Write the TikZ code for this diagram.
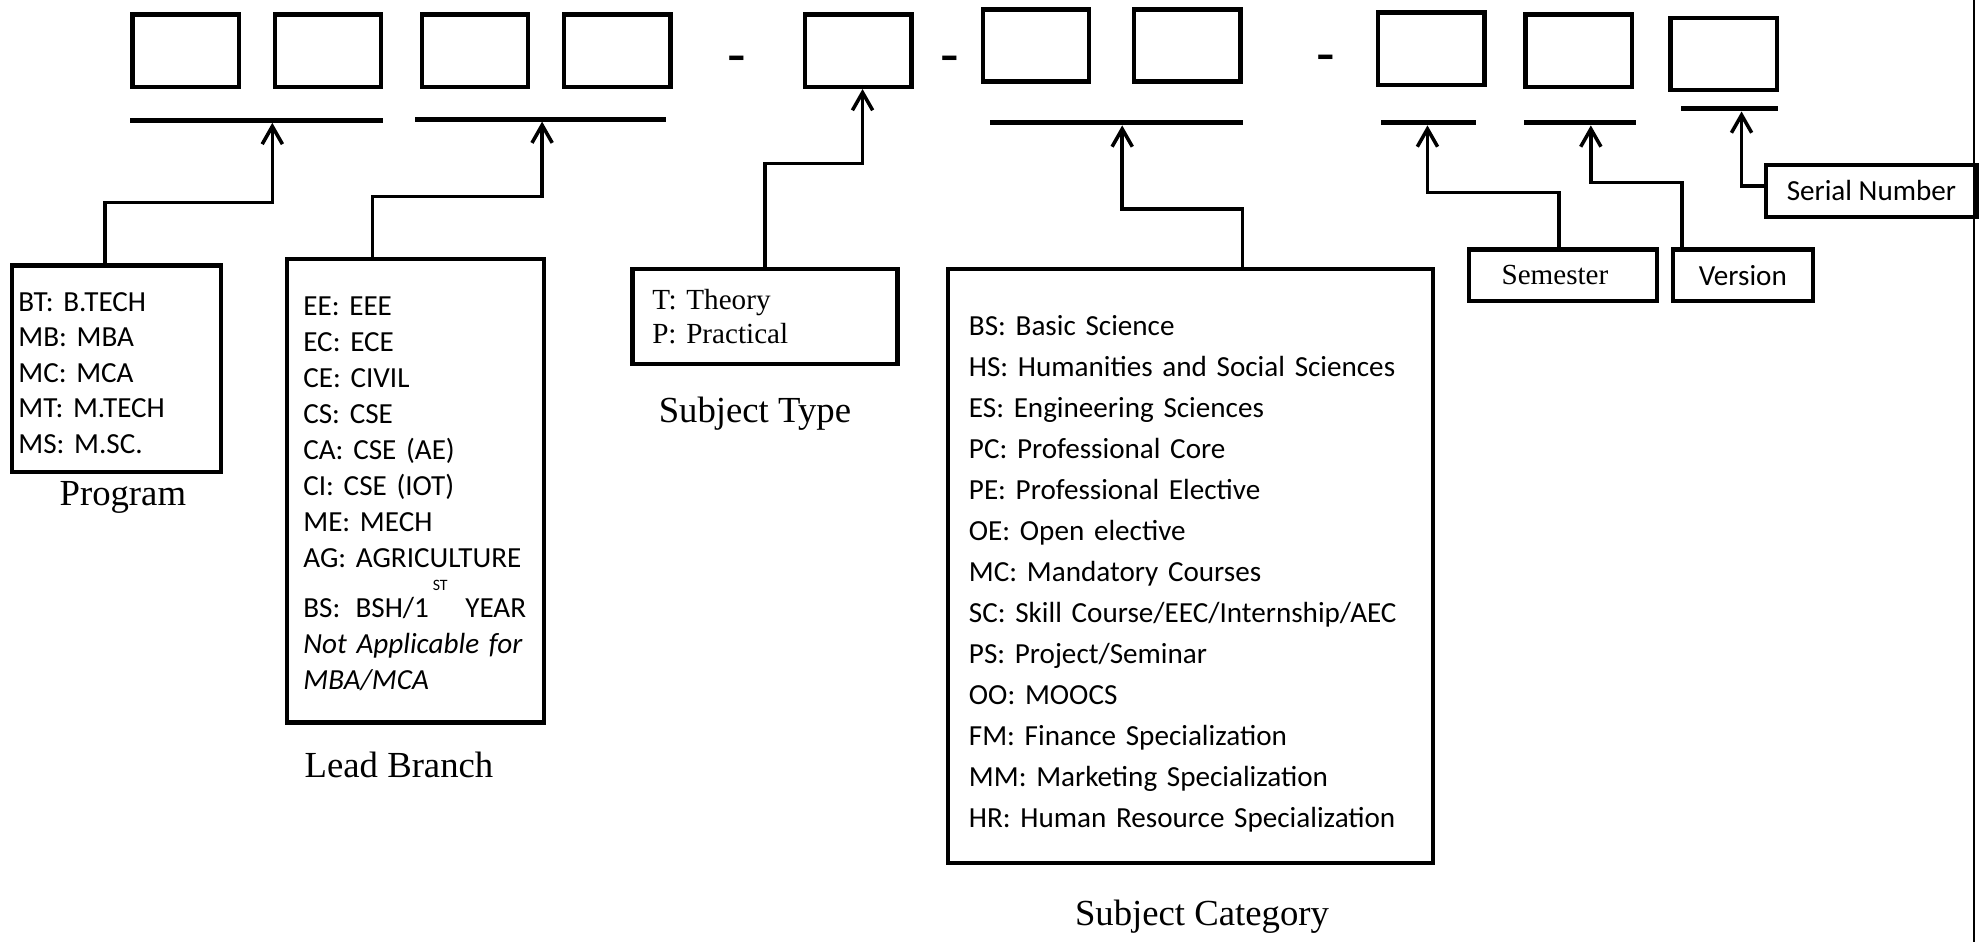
\documentclass[tikz,border=0pt]{standalone}
\usepackage{fontspec}
\setmainfont{Carlito}
\newfontfamily\tnr{Liberation Serif}
\usetikzlibrary{arrows.meta,positioning}
\frenchspacing

\begin{document}
\begin{tikzpicture}[x=1pt,y=-1pt]
\tikzstyle{cell}=[draw, line width=3.5pt, minimum width=84pt, minimum height=57pt, inner sep=0pt]
\tikzstyle{hyphen}=[font=\fontsize{48}{52}\selectfont, inner sep=0pt]
\tikzstyle{bar}=[fill, inner sep=0pt, outer sep=0pt, minimum height=4pt]
\tikzstyle{legend}=[draw, line width=3.6pt, align=left, inner ysep=0pt,
	font=\fontsize{23}{28}\selectfont]
\tikzstyle{tag}=[draw, line width=3.2pt, inner sep=0pt, minimum height=41pt,
	font=\fontsize{23}{28}\selectfont]
\tikzstyle{caption}=[font=\tnr\fontsize{29}{34}\selectfont]
\tikzstyle{link}=[line width=2.8pt, -{Straight Barb[length=14pt,width=16pt]}]
\useasboundingbox (0,0) rectangle (1568,744);

% code boxes
\node[cell] (b1) at (146.5,40) {};
\node[cell, right=25pt of b1] (b2) {};
\node[cell] (b3) at (375,40) {};
\node[cell, right=25pt of b3] (b4) {};
\node[cell] (b5) at (677.5,40) {};
\node[cell] (b6) at (818,36) {};
\node[cell, right=32pt of b6] (b7) {};
\node[cell] (b8) at (1130,38.5) {};
\node[cell, right=29pt of b8, yshift=-1.5pt] (b9) {};
\node[cell, right=27pt of b9, yshift=-2.5pt] (b10) {};
\node[hyphen] (d1) at (582,52) {-};
\node[hyphen] (d2) at (750,52) {-};
\node[hyphen] (d3) at (1047,51) {-};

% underlines
\node[bar, minimum width=199pt] (u1) at (202.5,95) {};
\node[bar, minimum width=198pt] (u2) at (427,94) {};
\node[bar, minimum width=199pt] (u3) at (881.5,97) {};
\node[bar, minimum width=75pt] (u4) at (1127.5,97) {};
\node[bar, minimum width=89pt] (u5) at (1247.5,97) {};
\node[bar, minimum width=77pt] (u6) at (1365.5,86) {};

% legends
\node[legend, minimum width=165pt, minimum height=163pt, text width=155pt, inner xsep=5pt] (prog) at (92,291)
	{\rule{0pt}{21.8pt}BT: B.TECH\\MB: MBA\\MC: MCA\\MT: M.TECH\\MS: M.SC.};
\node[legend, minimum width=203pt, minimum height=366pt, text width=177pt, inner xsep=13pt,
	font=\fontsize{23}{28.4}\selectfont] (lead) at (328,387.5)
	{\rule{0pt}{19.8pt}EE: EEE\\EC: ECE\\CE: CIVIL\\CS: CSE\\CA: CSE (AE)\\CI: CSE (IOT)\\ME: MECH\\AG: AGRICULTURE\\[11.6pt]
	BS:\hspace{12pt}BSH/1\hspace{3pt}\raisebox{22pt}[0pt][0pt]{\fontsize{12.5}{14}\selectfont ST}\hspace{14pt}YEAR\\
	\makebox[177pt][s]{\itshape Not Applicable for}\\\itshape MBA/MCA};
\node[legend, font=\tnr\fontsize{23}{27}\selectfont, minimum width=209pt, minimum height=75pt,
	text width=178pt, inner xsep=15.5pt] (type) at (604,250) {T: Theory\\P: Practical};
\node[legend, font=\fontsize{23}{32.4}\selectfont, minimum width=383pt, minimum height=469pt,
	text width=350pt, inner xsep=16.5pt] (cat) at (940,447)
	{\rule{0pt}{28.3pt}BS: Basic Science\\HS: Humanities and Social Sciences\\ES: Engineering Sciences\\
	PC: Professional Core\\PE: Professional Elective\\OE: Open elective\\MC: Mandatory Courses\\
	SC: Skill Course/EEC/Internship/AEC\\PS: Project/Seminar\\OO: MOOCS\\
	FM: Finance Specialization\\MM: Marketing Specialization\\HR: Human Resource Specialization};
\node[tag, minimum width=149pt, text width=97pt, inner xsep=26pt, align=left,
	font=\tnr\fontsize{23}{28}\selectfont] (sem) at (1234,217.5) {Semester};
\node[tag, minimum width=111pt] (ver) at (1376,217.5) {Version};
\node[tag, minimum width=167pt] (ser) at (1477.5,150.5) {Serial Number};

% captions
\node[caption] (capprog) at (97,393) {Program};
\node[caption] (caplead) at (315,604) {Lead Branch};
\node[caption] (captype) at (596,327) {Subject Type};
\node[caption] (capcat) at (949,724) {Subject Category};

% connectors
\coordinate (e1) at (215,160);
\coordinate (e2) at (428,155);
\coordinate (e3) at (681,129);
\coordinate (e4) at (886,165);
\coordinate (e5) at (1127,152);
\coordinate (e6) at (1256,144);
\coordinate (e7) at (1375,147);
\draw[link] ([xshift=-9pt]prog.north) |- (e1) -- (e1 |- u1.south);
\draw[link] ([xshift=-34pt]lead.north) |- (e2) -- (e2 |- u2.south);
\draw[link] (type.north) |- (e3) -- (e3 |- b5.south);
\draw[link] ([xshift=41pt]cat.north) |- (e4) -- (e4 |- u3.south);
\draw[link] ([xshift=-3pt]sem.north) |- (e5) -- (e5 |- u4.south);
\draw[link] ([xshift=-48pt]ver.north) |- (e6) -- (e6 |- u5.south);
\draw[link] ([yshift=3.5pt]ser.west) -- (e7) -- (e7 |- u6.south);

\draw[line width=1.8pt] (1558.5,0) -- (1558.5,744);

\end{tikzpicture}
\end{document}
